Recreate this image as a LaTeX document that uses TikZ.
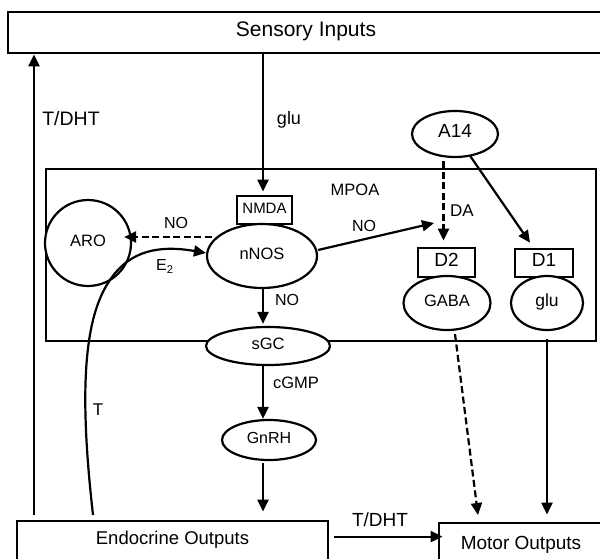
\documentclass[tikz,border=0pt]{standalone}
\usepackage{fontspec}
\setmainfont{Liberation Sans}
\usetikzlibrary{arrows.meta,shapes.geometric,calc}
\begin{document}
\begin{tikzpicture}[x=1pt,y=-1pt,
  line width=2.2pt,
  every node/.style={text height=0.716em, text depth=0pt, inner sep=0pt, font=\fontsize{16.5}{18}\selectfont},
  fs/.style={font=\fontsize{#1}{#1}\selectfont},
  ell/.style={draw, ellipse, fill=white},
  rec/.style={draw, rectangle, fill=white, line width=2.8pt},
  arr/.style={-{Triangle[length=12pt,width=11pt]}},
  dsh/.style={dash pattern=on 7pt off 3.5pt},
]
\clip (0,0) rectangle (600,559);
\fill[white] (0,0) rectangle (600,559);

% boxes
\node[rec,fs=21,minimum width=596,minimum height=41] (sens) at (306,32.5) {Sensory Inputs};
\node[draw,rectangle,minimum width=550,minimum height=172,line width=1.6pt] (mpoa) at (321,255) {};
\node[fs=16.5] (mpoalbl) at (355,192) {MPOA};
\node[draw,circle,fill=white,minimum size=86] (aro) at (88,243) {ARO};
\node[rec,fs=15,minimum width=55,minimum height=28] (nmda) at (264.5,210) {NMDA};
\node[ell,minimum width=110,minimum height=64] (nnos) at (262,256) {nNOS};
\node[ell,minimum width=124,minimum height=38] (sgc) at (268,346) {sGC};
\node[ell,fs=16,minimum width=94,minimum height=40] (gnrh) at (269,440) {GnRH};
\node[ell,fs=19,minimum width=86,minimum height=46] (a14) at (455,134) {A14};
\node[rec,fs=19,minimum width=57,minimum height=29] (d2) at (446.5,262.5) {D2};
\node[ell,minimum width=87,minimum height=54] (gaba) at (447,303) {GABA};
\node[rec,fs=19,minimum width=58,minimum height=28] (d1) at (544,263) {D1};
\node[ell,fs=17.5,minimum width=72,minimum height=54] (gluc) at (547,303) {glu};
\node[rec,fs=18.5,minimum width=311,text height=23pt,text depth=30pt,anchor=base] (endo) at (172.5,544) {Endocrine Outputs};
\node[rec,fs=19,minimum width=164,text height=26.5pt,text depth=30pt,anchor=base] (motor) at (521,549.5) {Motor Outputs};

% free ends
\coordinate (axis) at (263,0);
\coordinate (tdhtl) at (34,515);
\coordinate (tstart) at (93,515);
\coordinate (noend) at (434,223);
\coordinate (gabaend) at (478,515);

% connectors
\draw[arr] (tdhtl) -- (tdhtl |- sens.south);
\draw[arr,shorten >=3pt] (axis |- sens.south) -- (axis |- nmda.north);
\draw[arr,dsh] ($(nnos.west)+(6,-19)$) -- ($(aro.east)+(-8,-6)$);
\draw[arr] (tstart) .. controls (80,400) and (82,320) .. (110,280)
  .. controls (130,250) and (160,245) .. ($(nnos.west)+(0,-3)$);
\draw[arr,shorten >=2pt] (axis |- nnos.south) -- (axis |- sgc.north);
\draw[arr] ($(nnos.east)+(0,-6)$) -- (noend);
\draw[arr,dsh,shorten >=6pt] ($(d2.north |- a14.south)+(-3,3)$) -- ($(d2.north)+(-3,0)$);
\draw[arr,shorten >=6pt] (a14) -- (d1);
\draw[arr,dsh] ($(gaba.south)+(8,3)$) -- (gabaend);
\draw[arr,shorten <=8pt,shorten >=7pt] (gluc.south) -- (gluc.south |- motor.north);
\draw[arr] (axis |- sgc.south) -- (axis |- gnrh.north);
\draw[arr,shorten >=8pt] ($(axis |- gnrh.south)+(0,2)$) -- (axis |- endo.north);
\draw[arr] ($(endo.north east)+(5,17)$) -- ($(motor.north west)+(5,15)$);

% labels
\node[fs=19.5] (lTDHTa) at (71,122) {T/DHT};
\node[fs=18] (lglu) at (289,121) {glu};
\node[fs=16] (lNOa) at (176,225) {NO};
\node[fs=16,anchor=west] (lE) at (155,267) {E\textsubscript{2}};
\node[fs=16] (lNOb) at (287,302) {NO};
\node[fs=16] (lNOc) at (364,228) {NO};
\node[fs=17] (lDA) at (462,213) {DA};
\node[fs=16.5] (lcGMP) at (296,385) {cGMP};
\node[fs=17] (lT) at (98,412) {T};
\node[fs=19] (lTDHTb) at (380,523) {T/DHT};
\end{tikzpicture}
\end{document}
